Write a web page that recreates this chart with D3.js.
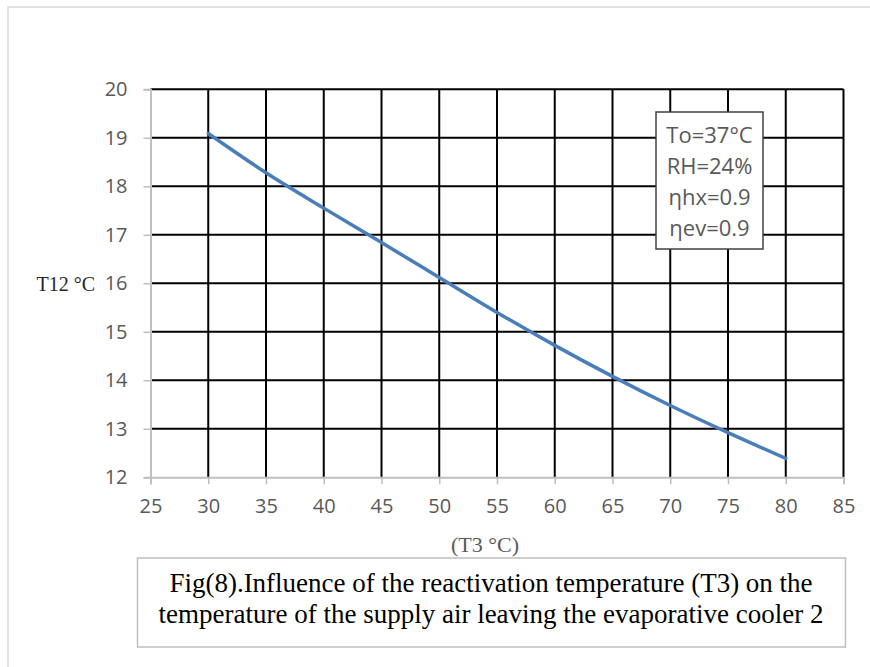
<!DOCTYPE html>
<html>
<head>
<meta charset="utf-8">
<script src="https://cdn.jsdelivr.net/npm/d3@7"></script>
<style>
  body { margin: 0; background: #fff; }
  svg { display: block; }
</style>
</head>
<body>
<div id="chart"></div>
<script>
// T3 (reactivation temperature) vs T12 (supply air temperature)
const t3 = [30, 35, 40, 45, 50, 55, 60, 65, 70, 75, 80]
const t12 = [19.09, 18.28, 17.55, 16.84, 16.12, 15.4, 14.72, 14.08, 13.48, 12.92, 12.39]
const xTicks = [25, 30, 35, 40, 45, 50, 55, 60, 65, 70, 75, 80, 85]
const yTicks = [12, 13, 14, 15, 16, 17, 18, 19, 20]
const legendLines = ['To=37°C', 'RH=24%', 'ηhx=0.9', 'ηev=0.9']
const captionLines = [
  'Fig(8).Influence of the reactivation temperature (T3) on the',
  'temperature of the supply air leaving the evaporative cooler 2'
]

const width = 870
const height = 667
const plot = { left: 150.5, right: 843.5, top: 89.3, bottom: 477.3 }
const tickFont = '"Open Sans", sans-serif'
const serif = '"Liberation Serif", "Times New Roman", serif'

const svg = d3.select('#chart')
  .append('svg')
  .attr('width', width)
  .attr('height', height)

// outer chart frame
svg.append('rect')
  .attr('x', 8)
  .attr('y', 7)
  .attr('width', 880)
  .attr('height', 700)
  .attr('fill', '#fff')
  .attr('stroke', '#d9d9d9')
  .attr('stroke-width', 1.5)

const x = d3.scaleLinear().domain([25, 85]).range([plot.left, plot.right])
const y = d3.scaleLinear().domain([12, 20]).range([plot.bottom, plot.top])

// grid
const grid = svg.append('g').attr('class', 'grid')
grid.selectAll('line.v')
  .data(xTicks.filter(d => d > 25))
  .enter()
  .append('line')
  .attr('class', 'v')
  .attr('x1', d => x(d))
  .attr('x2', d => x(d))
  .attr('y1', plot.top)
  .attr('y2', plot.bottom)
  .attr('stroke', '#000')
  .attr('stroke-width', 2)
grid.selectAll('line.h')
  .data(yTicks.filter(d => d > 12))
  .enter()
  .append('line')
  .attr('class', 'h')
  .attr('x1', plot.left)
  .attr('x2', plot.right)
  .attr('y1', d => y(d))
  .attr('y2', d => y(d))
  .attr('stroke', '#000')
  .attr('stroke-width', 2)

// axes
const xAxis = d3.axisBottom(x).tickValues(xTicks).tickSize(7).tickPadding(15)
const yAxis = d3.axisLeft(y).tickValues(yTicks).tickSize(7).tickPadding(16)

const xAxisG = svg.append('g')
  .attr('transform', `translate(0,${plot.bottom})`)
  .call(xAxis)
const yAxisG = svg.append('g')
  .attr('transform', `translate(${plot.left},0)`)
  .call(yAxis)

;[xAxisG, yAxisG].forEach(g => {
  g.select('.domain').attr('stroke', '#bfbfbf').attr('stroke-width', 2)
  g.selectAll('.tick line').attr('stroke', '#bfbfbf').attr('stroke-width', 1.5)
  g.selectAll('.tick text')
    .attr('fill', '#595959')
    .style('font-family', tickFont)
    .style('font-size', '20px')
})

// data line
const line = d3.line()
  .x((d, i) => x(t3[i]))
  .y(d => y(d))
  .curve(d3.curveMonotoneX)

svg.append('path')
  .datum(t12)
  .attr('d', line)
  .attr('fill', 'none')
  .attr('stroke', '#4a7ebb')
  .attr('stroke-width', 3.5)
  .attr('stroke-linecap', 'round')

// axis titles
svg.append('text')
  .text('T12 °C')
  .attr('x', 95)
  .attr('y', 291)
  .attr('text-anchor', 'end')
  .attr('fill', '#262626')
  .style('font-family', serif)
  .style('font-size', '20px')

svg.append('text')
  .text('(T3 °C)')
  .attr('x', 485)
  .attr('y', 552)
  .attr('text-anchor', 'middle')
  .attr('fill', '#595959')
  .style('font-family', serif)
  .style('font-size', '22px')

// parameter box
const legend = svg.append('g')
legend.append('rect')
  .attr('x', 656)
  .attr('y', 112)
  .attr('width', 107)
  .attr('height', 137)
  .attr('fill', '#fff')
  .attr('stroke', '#404040')
  .attr('stroke-width', 1.5)
legend.selectAll('text')
  .data(legendLines)
  .enter()
  .append('text')
  .text(d => d)
  .attr('x', 709.5)
  .attr('y', (d, i) => 143 + i * 31)
  .attr('text-anchor', 'middle')
  .attr('fill', '#595959')
  .style('font-family', tickFont)
  .style('font-size', '22px')

// caption box
const caption = svg.append('g')
caption.append('rect')
  .attr('x', 137.5)
  .attr('y', 558)
  .attr('width', 708)
  .attr('height', 89)
  .attr('fill', '#fff')
  .attr('stroke', '#bfbfbf')
  .attr('stroke-width', 1.5)
caption.selectAll('text')
  .data(captionLines)
  .enter()
  .append('text')
  .text(d => d)
  .attr('x', 491)
  .attr('y', (d, i) => 592 + i * 31)
  .attr('text-anchor', 'middle')
  .attr('fill', '#000')
  .style('font-family', serif)
  .style('font-size', '27px')
</script>
</body>
</html>
